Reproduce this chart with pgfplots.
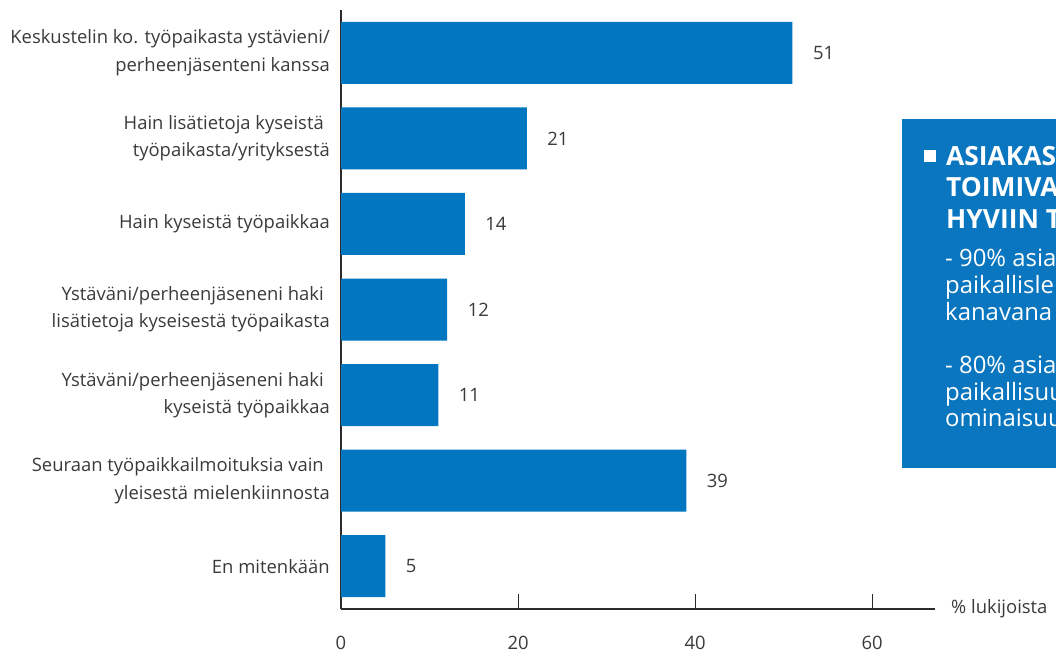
\documentclass[border=0pt]{standalone}
\usepackage{fontspec}
\setmainfont{Open Sans}
\usepackage{pgfplots}
\pgfplotsset{compat=1.18}
\definecolor{barblue}{HTML}{0077C0}
\definecolor{boxblue}{HTML}{0A76BF}
\definecolor{txt}{HTML}{3A3A3A}
\definecolor{axiscol}{HTML}{2E2A2A}
\newcommand\lbl{\fontsize{18.5}{27.5}\selectfont}
\newcommand\trsp{\hspace*{6bp}}
\begin{document}
\begin{tikzpicture}
\clip (0,0) rectangle (1056bp,-652bp);
\fill[boxblue] (902bp,-119bp) rectangle (1120bp,-468bp);
\fill[white] (923.5bp,-149.5bp) rectangle (935.5bp,-161.5bp);
\begin{scope}[every node/.style={anchor=base west, inner sep=0, text=white}]
\node[font=\fontsize{26.5}{32}\selectfont\bfseries] at (946bp,-165bp) {ASIAKASPALVELU};
\node[font=\fontsize{26.5}{32}\selectfont\bfseries] at (946bp,-196.7bp) {TOIMIVAA};
\node[font=\fontsize{26.5}{32}\selectfont\bfseries] at (946bp,-228.3bp) {HYVIIN TOTEUTETTU};
\node[font=\fontsize{24}{27}\selectfont] at (945bp,-266.7bp) {- 90\% asiakkaista};
\node[font=\fontsize{24}{27}\selectfont] at (945bp,-293bp) {paikallislehteä};
\node[font=\fontsize{24}{27}\selectfont] at (945bp,-320bp) {kanavana};
\node[font=\fontsize{24}{27}\selectfont] at (945bp,-373bp) {- 80\% asiakkaista};
\node[font=\fontsize{24}{27}\selectfont] at (945bp,-400bp) {paikallisuutta};
\node[font=\fontsize{24}{27}\selectfont] at (945bp,-426.7bp) {ominaisuutena};
\end{scope}
\begin{axis}[
  at={(341bp,-609bp)}, anchor=south west,
  width=594bp, height=599bp, scale only axis,
  xbar, bar width=62bp,
  xmin=0, xmax=67.1, ymin=-0.5, ymax=6.5,
  axis x line=bottom, axis y line=left,
  axis line style={-, line width=1.3bp, color=axiscol},
  xtick={0,20,40,60}, tick align=inside, major tick length=15bp,
  xtick style={line width=1bp, color=axiscol},
  ytick={0,1,2,3,4,5,6},
  yticklabels={
    {En mitenkään},
    {Seuraan työpaikkailmoituksia vain\trsp\\yleisestä mielenkiinnosta},
    {Ystäväni/perheenjäseneni haki\trsp\\kyseistä työpaikkaa},
    {Ystäväni/perheenjäseneni haki\trsp\\lisätietoja kyseisestä työpaikasta},
    {Hain kyseistä työpaikkaa},
    {Hain lisätietoja kyseistä\trsp\\työpaikasta/yrityksestä},
    {Keskustelin ko. työpaikasta ystävieni/\\perheenjäsenteni kanssa}},
  ytick style={draw=none},
  yticklabel style={align=right, font=\lbl, text=txt, inner sep=0, xshift=-11bp},
  xticklabel style={font=\lbl, text=txt, yshift=-24bp},
  /pgf/number format/assume math mode=true,
  point meta=x,
  nodes near coords,
  nodes near coords style={anchor=west, xshift=17bp, font=\lbl, text=txt},
  xlabel={\% lukijoista},
  x label style={at={(axis description cs:1,0)}, anchor=west, xshift=16bp, font=\lbl, text=txt, inner sep=0},
]
\addplot[fill=barblue, draw=none] coordinates {(5,0) (39,1) (11,2) (12,3) (14,4) (21,5) (51,6)};
\end{axis}
\end{tikzpicture}
\end{document}
